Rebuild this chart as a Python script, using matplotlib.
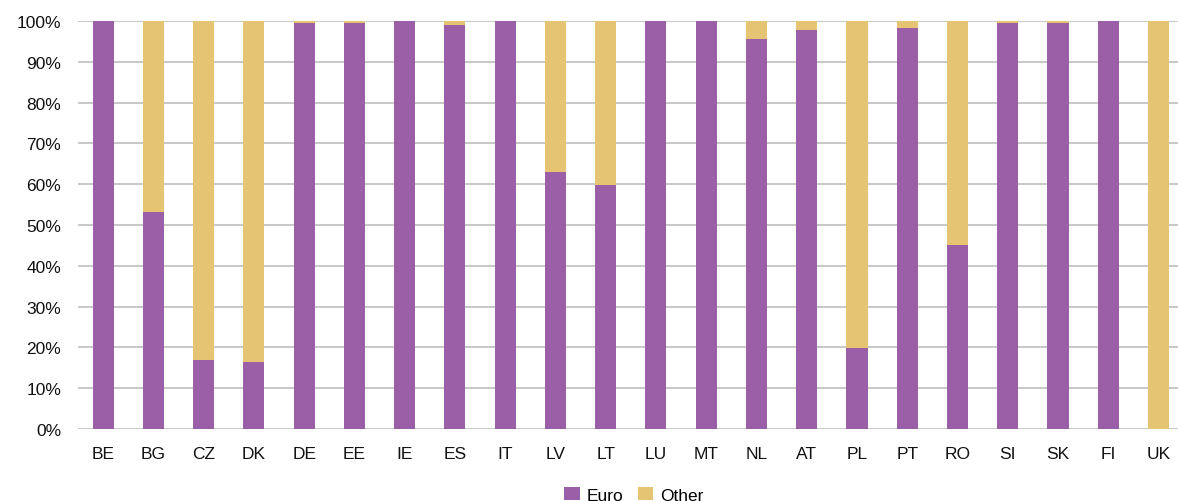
import matplotlib
matplotlib.use("Agg")
import matplotlib.pyplot as plt
import numpy as np
from matplotlib.ticker import FuncFormatter

countries = ["BE", "BG", "CZ", "DK", "DE", "EE", "IE", "ES", "IT", "LV", "LT",
             "LU", "MT", "NL", "AT", "PL", "PT", "RO", "SI", "SK", "FI", "UK"]
euro = [100.0, 53.2, 16.9, 16.4, 99.5, 99.5, 100.0, 99.0, 100.0, 63.0, 59.8,
        100.0, 100.0, 95.6, 97.8, 19.9, 98.3, 45.1, 99.5, 99.5, 100.0, 0.0]
other = [100.0 - e for e in euro]

purple = "#9A5FA6"
gold = "#E5C473"

plt.rcParams["font.family"] = ["Liberation Sans", "DejaVu Sans"]

fig = plt.figure(figsize=(11.78, 5.02), dpi=100)
ax = fig.add_axes([78 / 1178, 1 - 430 / 502, 1 - 78 / 1178, (430 - 22) / 502])

x = np.arange(len(countries))
w = 0.42
ax.bar(x, euro, w, color=purple, label="Euro", zorder=3)
ax.bar(x, other, w, bottom=euro, color=gold, label="Other", zorder=3)

ax.set_ylim(0, 100)
ax.set_xlim(-0.5, 21.0 + (1178 - 1158.5) / 50.2)
ax.set_yticks(np.arange(0, 101, 10))
ax.yaxis.set_major_formatter(FuncFormatter(lambda v, p: f"{v:.0f}%"))
ax.grid(axis="y", color="#C4C4C4", linewidth=1.3, zorder=0)
ax.set_xticks(x)
ax.set_xticklabels(countries)
ax.tick_params(axis="both", length=0)
ax.tick_params(axis="y", labelsize=12.5, pad=12, labelcolor="#111111")
ax.tick_params(axis="x", labelsize=12.5, pad=12, labelcolor="#111111")
for s in ax.spines.values():
    s.set_visible(False)

ax.legend(loc="center", bbox_to_anchor=(634 / 1178, 1 - 496 / 502),
          bbox_transform=fig.transFigure, ncol=2, frameon=False,
          fontsize=12.5, handlelength=0.9, handleheight=0.7,
          handletextpad=0.4, columnspacing=0.8, borderpad=0)

fig.savefig("out.png", dpi=100)
